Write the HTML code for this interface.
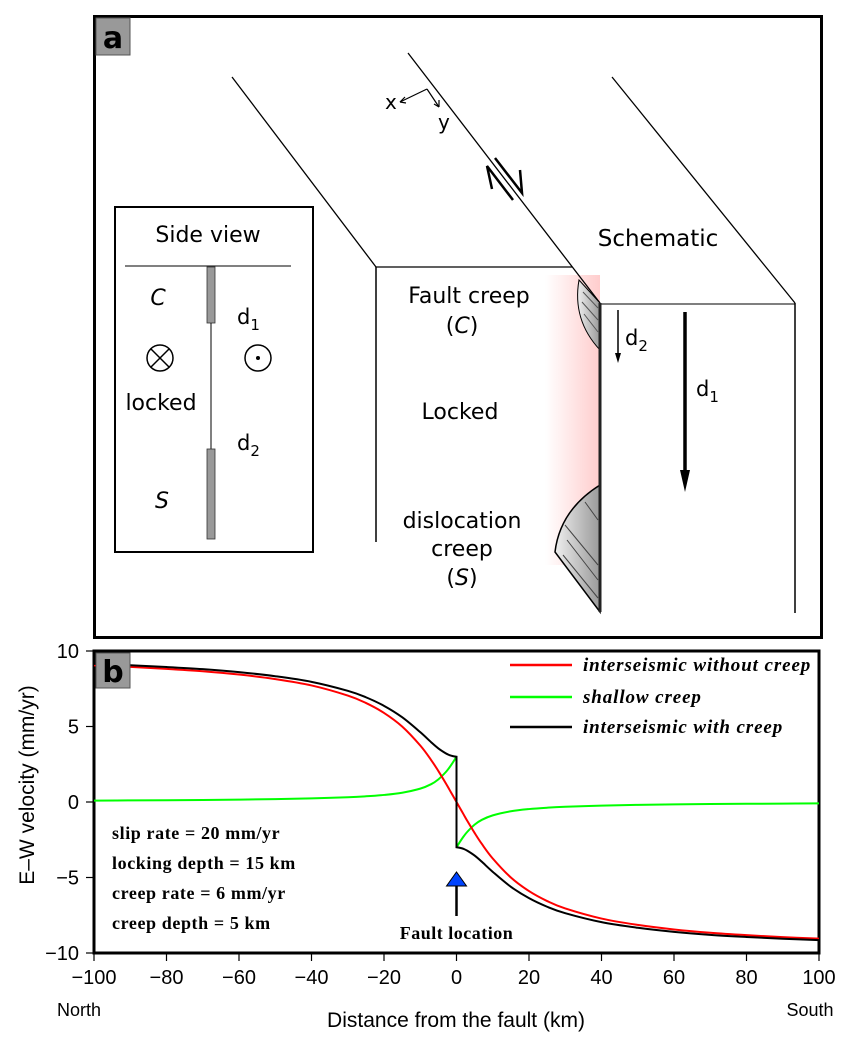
<!DOCTYPE html>
<html><head><meta charset="utf-8"><style>
html,body{margin:0;padding:0;background:#fff}
svg{display:block}
.sans{font-family:"DejaVu Sans","Liberation Sans",sans-serif}
.lsans{font-family:"Liberation Sans",sans-serif}
.serif{font-family:"Liberation Serif",serif;font-weight:bold}
</style></head><body>
<svg id="fig" width="850" height="1045" viewBox="0 0 850 1045" xmlns="http://www.w3.org/2000/svg">
<defs>
<linearGradient id="pink" x1="0" x2="1" y1="0" y2="0">
<stop offset="0" stop-color="#ff9a9a" stop-opacity="0"/>
<stop offset="1" stop-color="#ff9a9a" stop-opacity="0.5"/>
</linearGradient>
<linearGradient id="wedge" x1="0" x2="1" y1="0" y2="0">
<stop offset="0" stop-color="#eee"/><stop offset="1" stop-color="#999"/>
</linearGradient>
</defs>
<g>
<rect x="94.5" y="16.5" width="727" height="621" fill="#fff" stroke="#000" stroke-width="3"/>
<rect x="96" y="18" width="34" height="37" fill="#999" stroke="#555"/>
<text x="113" y="48" text-anchor="middle" class="sans" font-size="30" font-weight="bold">a</text>
<rect x="545" y="275" width="55" height="290" fill="url(#pink)"/>
<line x1="232" y1="77" x2="376" y2="267" stroke="#000" stroke-width="1.3"/>
<line x1="408" y1="53" x2="600" y2="303" stroke="#000" stroke-width="1.3"/>
<line x1="612" y1="77" x2="795" y2="303" stroke="#000" stroke-width="1.3"/>
<line x1="376" y1="267" x2="572" y2="267" stroke="#000" stroke-width="1.3"/>
<line x1="376" y1="267" x2="376" y2="542" stroke="#000" stroke-width="1.5"/>
<line x1="600" y1="304" x2="795" y2="304" stroke="#555" stroke-width="1.5"/>
<line x1="795" y1="303" x2="795" y2="613" stroke="#000" stroke-width="1.5"/>
<path d="M579 280 Q572 320 600 350 L600 303 Z" fill="url(#wedge)" stroke="#000" stroke-width="1"/>
<path d="M583 292 L598 308 M582 302 L598 320 M584 314 L598 332" stroke="#555" stroke-width="1"/>
<path d="M600 485 Q560 510 555 552 L600 612 Z" fill="url(#wedge)" stroke="#000" stroke-width="1.5"/>
<path d="M565 525 L598 565 M567 540 L598 580 M563 555 L598 598 M585 502 L598 520" stroke="#444" stroke-width="1"/>
<line x1="600" y1="303" x2="600" y2="612" stroke="#222" stroke-width="3"/>
<line x1="618" y1="310" x2="618" y2="355" stroke="#000" stroke-width="1.5"/>
<path d="M615 353 L618 363 L621 353 Z" fill="#000"/>
<text x="625" y="345" class="sans" font-size="21">d<tspan font-size="15" dy="6">2</tspan></text>
<line x1="685" y1="312" x2="685" y2="475" stroke="#000" stroke-width="3.5"/>
<path d="M680 470 L685 492 L690 470 Z" fill="#000"/>
<text x="696" y="396" class="sans" font-size="21">d<tspan font-size="15" dy="6">1</tspan></text>
<text x="658" y="246" text-anchor="middle" class="sans" font-size="23">Schematic</text>
<text x="469" y="303" text-anchor="middle" class="sans" font-size="22">Fault creep</text>
<text x="462" y="333" text-anchor="middle" class="sans" font-size="22">(<tspan font-style="italic">C</tspan>)</text>
<text x="460" y="419" text-anchor="middle" class="sans" font-size="22">Locked</text>
<text x="462" y="528" text-anchor="middle" class="sans" font-size="22">dislocation</text>
<text x="462" y="556" text-anchor="middle" class="sans" font-size="22">creep</text>
<text x="462" y="585" text-anchor="middle" class="sans" font-size="22">(<tspan font-style="italic">S</tspan>)</text>
<path d="M427 89 L400 102 M427 89 L439 107" stroke="#000" stroke-width="1.2" fill="none"/>
<path d="M400 102 L405 97 M400 102 L406 103 M439 107 L439 100 M439 107 L434 104" stroke="#000" stroke-width="1.2"/>
<text x="385" y="109" class="sans" font-size="20">x</text>
<text x="438" y="129" class="sans" font-size="20">y</text>
<path d="M492 189 L487 166 L513 200 M495 158 L522 193 L520 170" stroke="#000" stroke-width="2.5" fill="none"/>
<g>
<rect x="115" y="207" width="198" height="345" fill="#fff" stroke="#000" stroke-width="2"/>
<text x="208" y="242" text-anchor="middle" class="sans" font-size="22">Side view</text>
<line x1="125" y1="266" x2="291" y2="266" stroke="#000" stroke-width="1"/>
<rect x="207" y="267" width="8" height="56" fill="#999" stroke="#333" stroke-width="0.8"/>
<line x1="211" y1="323" x2="211" y2="449" stroke="#000" stroke-width="1"/>
<rect x="207" y="449" width="8" height="90" fill="#999" stroke="#333" stroke-width="0.8"/>
<text x="158" y="305" text-anchor="middle" class="sans" font-size="22" font-style="italic">C</text>
<text x="237" y="324" class="sans" font-size="21">d<tspan font-size="15" dy="6">1</tspan></text>
<circle cx="160" cy="358" r="13" fill="none" stroke="#000" stroke-width="1.5"/>
<path d="M151 349 L169 367 M169 349 L151 367" stroke="#000" stroke-width="1.5"/>
<circle cx="258" cy="358" r="13" fill="none" stroke="#000" stroke-width="1.5"/>
<circle cx="258" cy="358" r="2" fill="#000"/>
<text x="161" y="410" text-anchor="middle" class="sans" font-size="22">locked</text>
<text x="237" y="450" class="sans" font-size="21">d<tspan font-size="15" dy="6">2</tspan></text>
<text x="162" y="508" text-anchor="middle" class="sans" font-size="22" font-style="italic">S</text>
</g>
</g>
<g id="chart">
<rect x="94" y="651" width="725" height="302" fill="#fff" stroke="#000" stroke-width="3"/>
<g id="ticks"></g>
<g id="series"></g>
<rect x="96" y="653" width="34" height="35" fill="#999" stroke="#555"/>
<text x="113" y="682" text-anchor="middle" class="sans" font-size="30" font-weight="bold">b</text>
<g>
<line x1="510" y1="665" x2="572" y2="665" stroke="#f00" stroke-width="2.5"/>
<text x="583" y="671" class="serif" font-style="italic" font-size="19" letter-spacing="0.9">interseismic without creep</text>
<line x1="510" y1="697" x2="572" y2="697" stroke="#0f0" stroke-width="2.5"/>
<text x="583" y="703" class="serif" font-style="italic" font-size="19" letter-spacing="0.9">shallow creep</text>
<line x1="510" y1="727" x2="572" y2="727" stroke="#000" stroke-width="2.5"/>
<text x="583" y="733" class="serif" font-style="italic" font-size="19" letter-spacing="0.9">interseismic with creep</text>
</g>
<g class="serif" font-size="18" letter-spacing="0.6">
<text x="112" y="839">slip rate = 20 mm/yr</text>
<text x="112" y="869">locking depth = 15 km</text>
<text x="112" y="899">creep rate = 6 mm/yr</text>
<text x="112" y="929">creep depth = 5 km</text>
</g>
<g id="faultmark"></g>
<text transform="translate(34,785) rotate(-90)" text-anchor="middle" class="lsans" font-size="21">E–W velocity (mm/yr)</text>
<text x="456" y="1027" text-anchor="middle" class="lsans" font-size="21">Distance from the fault (km)</text>
<text x="79" y="1016" text-anchor="middle" class="lsans" font-size="18">North</text>
<text x="810" y="1016" text-anchor="middle" class="lsans" font-size="18">South</text>
</g>
</svg>
<script>
const distLeft = [-100,-90,-80,-70,-60,-50,-40,-30,-25,-20,-15,-10,-7,-5,-3,-2,-1,0];
const noCreepLeft = [9.05,8.95,8.82,8.66,8.44,8.14,7.72,7.05,6.56,5.90,5.00,3.74,2.78,2.05,1.26,0.84,0.42,0];
const creepLeft = [0.095,0.106,0.119,0.136,0.159,0.190,0.238,0.315,0.377,0.468,0.615,0.885,1.18,1.50,1.97,2.27,2.62,3.0];
const distRight = [0,1,2,3,5,7,10,15,20,25,30,40,50,60,70,80,90,100];
const noCreepRight = [0,-0.42,-0.84,-1.26,-2.05,-2.78,-3.74,-5.00,-5.90,-6.56,-7.05,-7.72,-8.14,-8.44,-8.66,-8.82,-8.95,-9.05];
const creepRight = [-3.0,-2.62,-2.27,-1.97,-1.50,-1.18,-0.885,-0.615,-0.468,-0.377,-0.315,-0.238,-0.190,-0.159,-0.136,-0.119,-0.106,-0.095];
const xTicks = [-100,-80,-60,-40,-20,0,20,40,60,80,100];
const yTicks = [10,5,0,-5,-10];
const faultX = 0;

const NS='http://www.w3.org/2000/svg';
const X0=94,X1=819,Y0=651,Y1=953;
function xs(v){return X0+(v+100)/200*(X1-X0);}
function ys(v){return Y0+(10-v)/20*(Y1-Y0);}
function mk(tag,attrs,parent){const e=document.createElementNS(NS,tag);for(const k in attrs)e.setAttribute(k,attrs[k]);parent.appendChild(e);return e;}
const tg=document.getElementById('ticks');
xTicks.forEach(v=>{
  const l=mk('line',{x1:xs(v),x2:xs(v),y1:Y1,y2:Y1+8,stroke:'#000','stroke-width':1.2},tg);
  
  
  const t=mk('text',{x:xs(v),y:Y1+31,'text-anchor':'middle','font-size':20,'font-family':'"Liberation Sans",sans-serif'},tg);
  t.textContent=v<0?'\u2212'+Math.abs(v):String(v);
  
  
});
yTicks.forEach(v=>{
  const l=mk('line',{x1:X0-8,x2:X0,y1:ys(v),y2:ys(v),stroke:'#000','stroke-width':1.2},tg);
  
  
  const t=mk('text',{x:X0-15,y:ys(v)+7,'text-anchor':'end','font-size':20,'font-family':'"Liberation Sans",sans-serif'},tg);
  t.textContent=v<0?'\u2212'+Math.abs(v):String(v);
  
  
});
function smooth(xsArr,ysArr){
  const p=xsArr.map((d,i)=>[xs(d),ys(ysArr[i])]);
  let s='M'+p[0][0]+' '+p[0][1];
  for(let i=0;i<p.length-1;i++){
    const a=p[i-1]||p[i],b=p[i],c=p[i+1],d=p[i+2]||c;
    s+=' C'+(b[0]+(c[0]-a[0])/6)+' '+(b[1]+(c[1]-a[1])/6)+' '+(c[0]-(d[0]-b[0])/6)+' '+(c[1]-(d[1]-b[1])/6)+' '+c[0]+' '+c[1];
  }
  return s;
}
const sg=document.getElementById('series');
const withLeft=noCreepLeft.map((v,i)=>v+creepLeft[i]);
const withRight=noCreepRight.map((v,i)=>v+creepRight[i]);
let p;
p=mk('path',{d:smooth(distLeft,creepLeft),fill:'none',stroke:'#0f0','stroke-width':2},sg);


p=mk('path',{d:smooth(distRight,creepRight),fill:'none',stroke:'#0f0','stroke-width':2},sg);


p=mk('path',{d:smooth(distLeft.concat(distRight.slice(1)),noCreepLeft.concat(noCreepRight.slice(1))),fill:'none',stroke:'#f00','stroke-width':2},sg);


p=mk('path',{d:smooth(distLeft,withLeft)+' L'+xs(distRight[0])+' '+ys(withRight[0])+' '+smooth(distRight,withRight).replace('M','L'),fill:'none',stroke:'#000','stroke-width':2},sg);


const fm=document.getElementById('faultmark');
const fx=xs(faultX);
mk('line',{x1:fx,x2:fx,y1:884,y2:916,stroke:'#000','stroke-width':2.5},fm);
mk('path',{d:'M'+(fx-10)+' 886 L'+fx+' 872 L'+(fx+10)+' 886 Z',fill:'#0044ff',stroke:'#000','stroke-width':1},fm);
const ft=mk('text',{x:fx,y:939,'text-anchor':'middle','font-size':18,'font-weight':'bold','letter-spacing':'0.5','font-family':'"Liberation Serif",serif'},fm);
ft.textContent='Fault location';
</script>
</body></html>
